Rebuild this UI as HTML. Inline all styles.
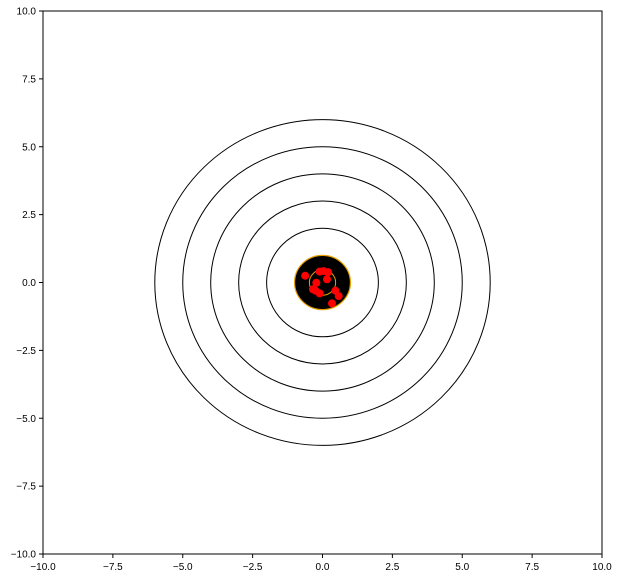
<!DOCTYPE html>
<html><head><meta charset="utf-8"><style>body{margin:0;background:#fff}svg{display:block;font-family:"Liberation Sans",sans-serif}</style></head>
<body>
<svg id="c" width="620" height="579" xmlns="http://www.w3.org/2000/svg"></svg>
<script>
const ringRadii=[2,3,4,5,6];
const xs=[-0.62,-0.1,0.04,0.2,0.16,-0.22,-0.34,-0.1,0.46,0.58,0.34,-0.25];
const ys=[0.25,0.4,0.42,0.38,0.12,-0.01,-0.25,-0.4,-0.3,-0.5,-0.77,-0.3];
const ticks=[-10,-7.5,-5,-2.5,0,2.5,5,7.5,10];
const tickLabels=["−10.0","−7.5","−5.0","−2.5","0.0","2.5","5.0","7.5","10.0"];
const L=43,R=602,T=11,B=554;
const sx=v=>L+(v+10)/20*(R-L), sy=v=>B-(v+10)/20*(B-T);
const kx=(R-L)/20, ky=(B-T)/20;
const svg=document.getElementById('c');const NS="http://www.w3.org/2000/svg";
function mk(t,a,p){const e=document.createElementNS(NS,t);for(const k in a)e.setAttribute(k,a[k]);(p||svg).appendChild(e);return e;}
ringRadii.forEach(r=>{const e=mk('ellipse',{cx:sx(0),cy:sy(0),rx:r*kx,ry:r*ky,fill:'none',stroke:'#000','stroke-width':1});

});
let e=mk('ellipse',{cx:sx(0),cy:sy(0),rx:kx,ry:ky,fill:'#000',stroke:'#e8a000','stroke-width':1.2});


e=mk('ellipse',{cx:sx(0),cy:sy(0),rx:0.47*kx,ry:0.47*ky,fill:'none',stroke:'#e8a000','stroke-width':1});


xs.forEach((x,i)=>{const p=mk('circle',{cx:sx(x),cy:sy(ys[i]),r:4,fill:'#f00'});

});
e=mk('rect',{x:L,y:T,width:R-L,height:B-T,fill:'none',stroke:'#000','stroke-width':1});


ticks.forEach((t,i)=>{
 mk('line',{x1:sx(t),x2:sx(t),y1:B,y2:B+4,stroke:'#000'});
 const a=mk('text',{x:sx(t),y:B+16,'font-size':10,'text-anchor':'middle'});a.textContent=tickLabels[i];
 
 
 mk('line',{x1:L-4,x2:L,y1:sy(t),y2:sy(t),stroke:'#000'});
 const b=mk('text',{x:L-7,y:sy(t)+3.5,'font-size':10,'text-anchor':'end'});b.textContent=tickLabels[i];
 
 
});
</script>
</body></html>
